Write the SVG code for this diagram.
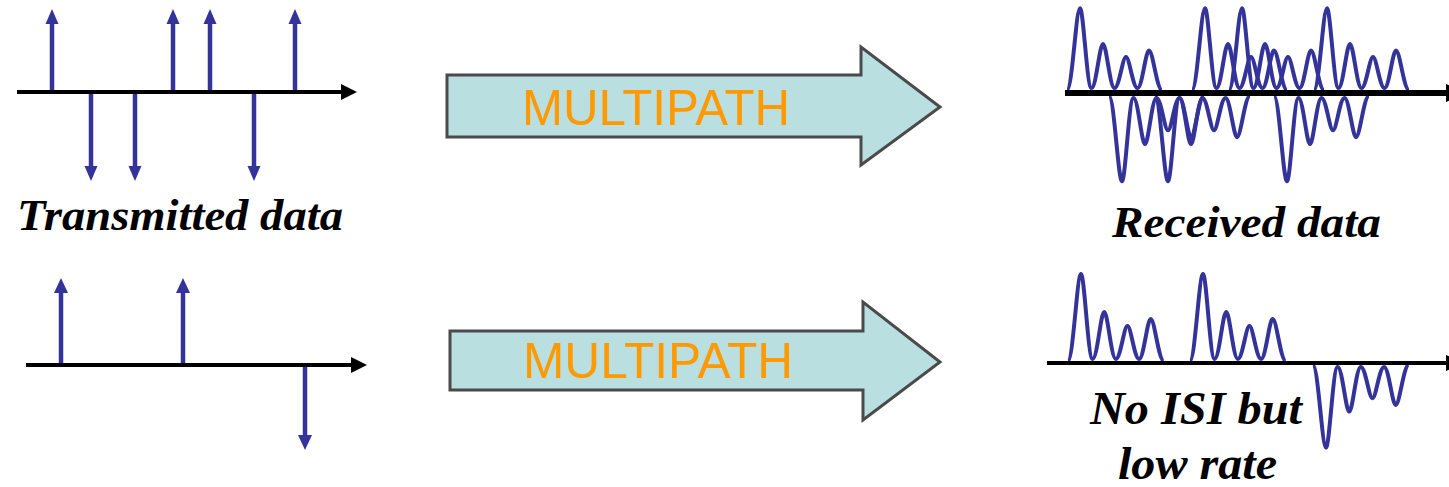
<svg xmlns="http://www.w3.org/2000/svg" width="1449" height="487" viewBox="0 0 1449 487">
<style>
.axis{stroke:#000;stroke-width:4;fill:none}
.ahead{fill:#000}
.stem{stroke:#333399;stroke-width:4.5;fill:none}
.label{font-family:"Liberation Serif","Times New Roman",serif;font-weight:bold;font-style:italic;font-size:45px;fill:#000}
.block{fill:#BADFE0;stroke:#4a4a4a;stroke-width:3;stroke-linejoin:miter}
.mp{font-family:"Liberation Sans",Arial,sans-serif;font-size:50px;fill:#FF9900}
</style>
<defs>
<marker id="bh" markerUnits="userSpaceOnUse" markerWidth="16" markerHeight="16" refX="0" refY="8" orient="auto">
<path d="M0,1.5 L15,8 L0,14.5 z" fill="#333399"/>
</marker>
<marker id="bh2" markerUnits="userSpaceOnUse" markerWidth="18" markerHeight="18" refX="0" refY="9" orient="auto">
<path d="M0,2 L15,9 L0,16 z" fill="#333399"/>
</marker>
<path id="pulse" d="M-13 0 C-7.8 0 -3.9 -87 0 -87 C3.45 -87 6.9 -2 11.5 -2 C16.1 -2 19.55 -49 23 -49 C26.45 -49 29.9 -2 34.5 -2 C39.1 -2 42.55 -35 46 -35 C49.45 -35 52.9 -2 57.5 -2 C62.1 -2 65.55 -42 69 -42 C72.9 -42 76.8 0 82 0" fill="none" stroke="#333399" stroke-width="4" stroke-linejoin="round" vector-effect="non-scaling-stroke"/>
</defs>

<g id="transmitted-top">
<line class="stem" x1="52" y1="92" x2="52" y2="24" marker-end="url(#bh)"/>
<line class="stem" x1="91" y1="92" x2="91" y2="166" marker-end="url(#bh)"/>
<line class="stem" x1="135" y1="92" x2="135" y2="166" marker-end="url(#bh)"/>
<line class="stem" x1="173" y1="92" x2="173" y2="24" marker-end="url(#bh)"/>
<line class="stem" x1="210" y1="92" x2="210" y2="24" marker-end="url(#bh)"/>
<line class="stem" x1="254" y1="92" x2="254" y2="166" marker-end="url(#bh)"/>
<line class="stem" x1="295" y1="92" x2="295" y2="24" marker-end="url(#bh)"/>
<line class="axis" x1="17" y1="92" x2="344" y2="92"/>
<polygon class="ahead" points="341,84 357,92 341,100"/>
<text class="label" x="17" y="230" textLength="326" lengthAdjust="spacingAndGlyphs">Transmitted data</text>
</g>

<g id="multipath-top">
<polygon class="block" points="447,75 861,75 861,47 940,107 861,165 861,137 447,137"/>
<text class="mp" x="522" y="125" textLength="268" lengthAdjust="spacingAndGlyphs">MULTIPATH</text>
</g>

<g id="received-top">
<use href="#pulse" transform="translate(1080,90) scale(1,0.94)"/>
<use href="#pulse" transform="translate(1205,90) scale(1,0.94)"/>
<use href="#pulse" transform="translate(1242,90) scale(1,0.94)"/>
<use href="#pulse" transform="translate(1327,90) scale(1,0.94)"/>
<use href="#pulse" transform="translate(1122,96) scale(1,-0.98)"/>
<use href="#pulse" transform="translate(1168,96) scale(1,-0.98)"/>
<use href="#pulse" transform="translate(1287,96) scale(1,-0.98)"/>
<line x1="1065" y1="93" x2="1449" y2="93" stroke="#000" stroke-width="6"/>
<polygon class="ahead" points="1446,84 1468,93 1446,102"/>
<text class="label" x="1112" y="237" textLength="269" lengthAdjust="spacingAndGlyphs">Received data</text>
</g>

<g id="transmitted-bottom">
<line class="stem" x1="61" y1="365" x2="61" y2="293" marker-end="url(#bh2)"/>
<line class="stem" x1="183" y1="365" x2="183" y2="293" marker-end="url(#bh2)"/>
<line class="stem" x1="305" y1="365" x2="305" y2="435" marker-end="url(#bh2)"/>
<line class="axis" x1="26" y1="365" x2="354" y2="365"/>
<polygon class="ahead" points="351,357 367,365 351,373"/>
</g>

<g id="multipath-bottom">
<polygon class="block" points="450,331 863,331 863,302 940,362 863,420 863,390 450,390"/>
<text class="mp" x="523" y="378" textLength="270" lengthAdjust="spacingAndGlyphs">MULTIPATH</text>
</g>

<g id="received-bottom">
<use href="#pulse" transform="translate(1081,361) scale(1.01,1)"/>
<use href="#pulse" transform="translate(1203,361) scale(1.01,1)"/>
<use href="#pulse" transform="translate(1326,365) scale(1.01,-0.95)"/>
<line x1="1047" y1="363" x2="1449" y2="363" stroke="#000" stroke-width="4"/>
<polygon class="ahead" points="1446,355 1464,363 1446,371"/>
<text class="label" x="1090" y="424" textLength="212" lengthAdjust="spacingAndGlyphs" style="font-size:46px">No ISI but</text>
<text class="label" x="1118" y="479" textLength="159" lengthAdjust="spacingAndGlyphs" style="font-size:46px">low rate</text>
</g>
</svg>
